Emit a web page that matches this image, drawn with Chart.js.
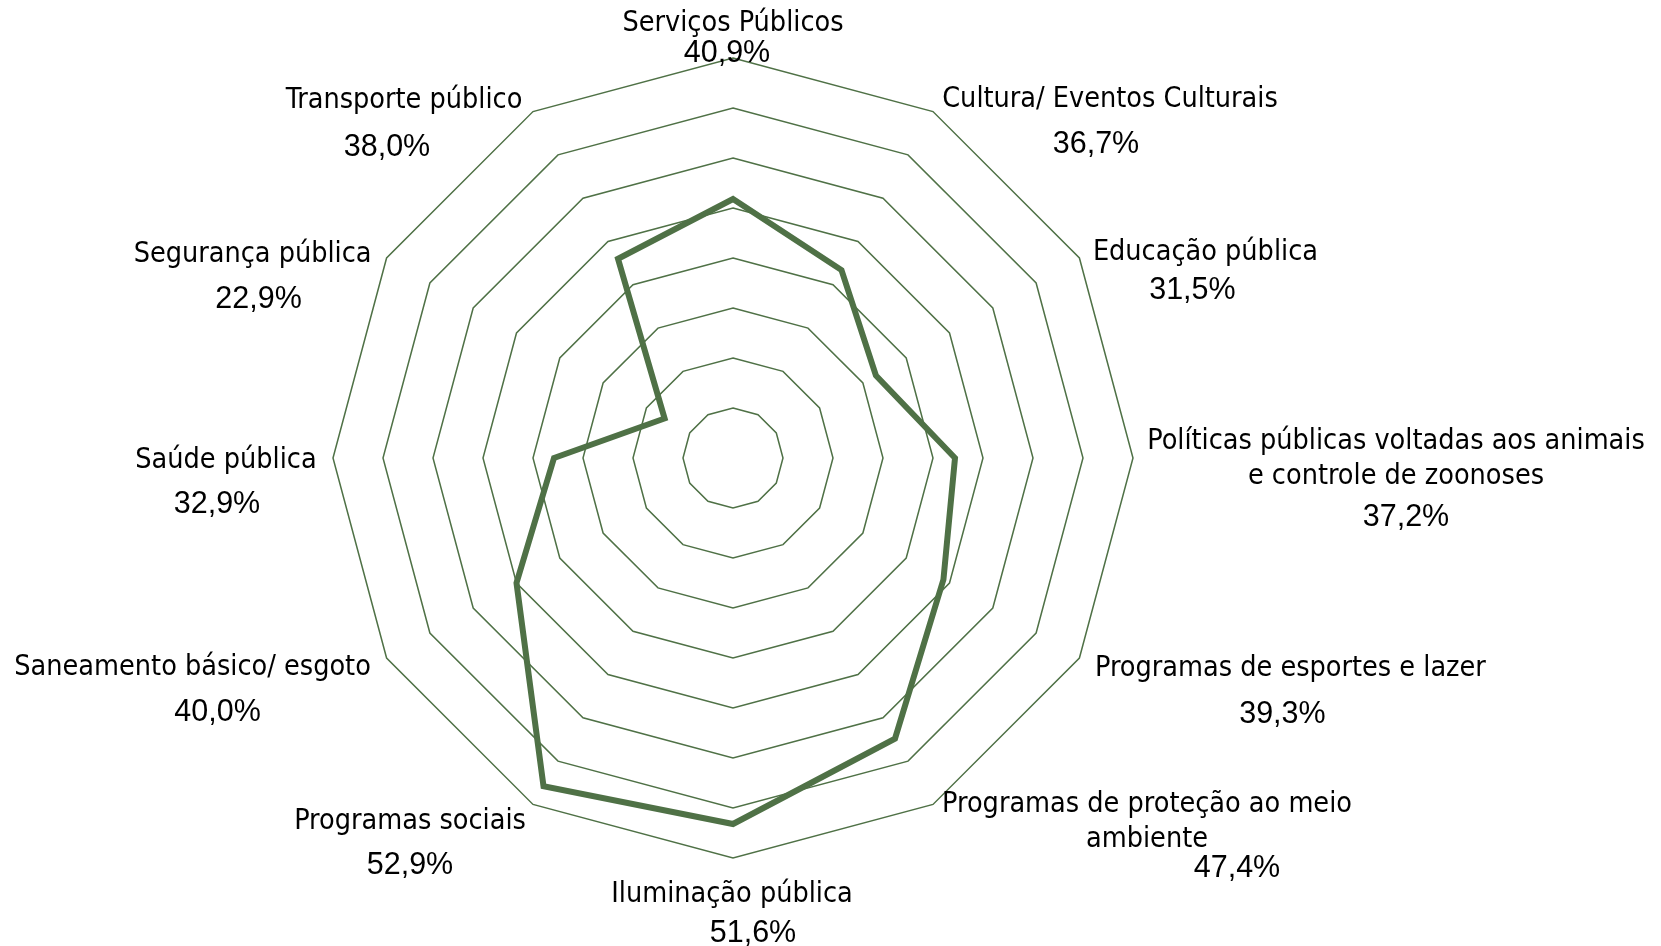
<!DOCTYPE html>
<html>
<head>
<meta charset="utf-8">
<script src="https://cdn.jsdelivr.net/npm/chart.js@4/dist/chart.umd.min.js"></script>
<style>
  html, body { margin: 0; padding: 0; background: #ffffff; }
  #wrap { width: 1661px; height: 946px; position: relative; }
</style>
</head>
<body>
<div id="wrap"><canvas id="radarChart"></canvas></div>
<script>
const categories = [
  ["Serviços Públicos"],
  ["Cultura/ Eventos Culturais"],
  ["Educação pública"],
  ["Políticas públicas voltadas aos animais", "e controle de zoonoses"],
  ["Programas de esportes e lazer"],
  ["Programas de proteção ao meio", "ambiente"],
  ["Iluminação pública"],
  ["Programas sociais"],
  ["Saneamento básico/ esgoto"],
  ["Saúde pública"],
  ["Segurança pública"],
  ["Transporte público"]
];

const values = [40.9, 36.7, 31.5, 37.2, 39.3, 47.4, 51.6, 52.9, 40.0, 32.9, 22.9, 38.0];

const scaleMin = 15;
const scaleMax = 55;
const scaleStep = 5;

// label placement relative to each outer vertex: [nameDx, nameDy, pctDx, pctDy]
const labelOffsets = [
  [0, -34, -6, -4],
  [177, -12, 163, 33],
  [126, -5, 113, 33],
  [263, -16, 273, 60],
  [211, 11, 203, 57],
  [214, 0, 304, 64],
  [-1, 37, 20, 76],
  [-123, 17, -123, 61],
  [-194, 10, -169, 55],
  [-107, 3, -116, 47],
  [-134, -3, -128, 42],
  [-129, -11, -146, 36]
];

const green = "#4f7146";
const nameFont = "28.5px 'DejaVu Sans Condensed', 'DejaVu Sans', sans-serif";
const pctFont = "30.5px 'Liberation Sans', Arial, sans-serif";

function formatPct(v) {
  return v.toFixed(1).replace(".", ",") + "%";
}

const labelPlugin = {
  id: "radarLabels",
  afterDraw(chart) {
    const scale = chart.scales.r;
    const ctx = chart.ctx;
    ctx.save();
    ctx.fillStyle = "#000000";
    ctx.textAlign = "center";
    ctx.textBaseline = "middle";
    categories.forEach((lines, i) => {
      const p = scale.getPointPosition(i, scale.drawingArea);
      const off = labelOffsets[i];
      ctx.font = nameFont;
      lines.forEach((line, k) => {
        ctx.fillText(line, p.x + off[0], p.y + off[1] + k * 35);
      });
      ctx.font = pctFont;
      ctx.fillText(formatPct(values[i]), p.x + off[2], p.y + off[3]);
    });
    ctx.restore();
  }
};

const chart = new Chart(document.getElementById("radarChart"), {
  type: "radar",
  data: {
    labels: categories,
    datasets: [
      {
        data: values,
        borderColor: green,
        borderWidth: 6,
        backgroundColor: "rgba(0,0,0,0)",
        fill: false,
        pointRadius: 0,
        pointHoverRadius: 0,
        tension: 0
      }
    ]
  },
  options: {
    responsive: true,
    maintainAspectRatio: false,
    animation: false,
    layout: {
      padding: { top: 58, bottom: 88, left: 0, right: 195 }
    },
    plugins: {
      legend: { display: false },
      tooltip: { enabled: false }
    },
    scales: {
      r: {
        min: scaleMin,
        max: scaleMax,
        ticks: { stepSize: scaleStep, display: false },
        grid: { color: green, lineWidth: 1.5 },
        angleLines: { display: false },
        pointLabels: { display: false }
      }
    }
  },
  plugins: [labelPlugin]
});
</script>
</body>
</html>
